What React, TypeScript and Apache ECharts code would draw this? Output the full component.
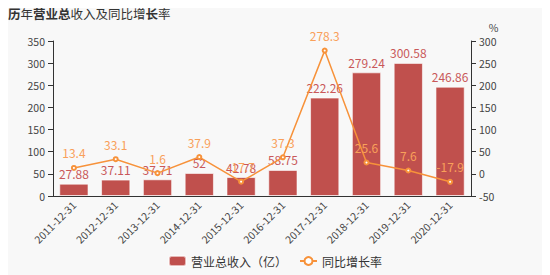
import React, { useEffect, useRef } from "react";
import * as echarts from "echarts";

const categories = [
  "2011-12-31", "2012-12-31", "2013-12-31", "2014-12-31", "2015-12-31",
  "2016-12-31", "2017-12-31", "2018-12-31", "2019-12-31", "2020-12-31",
];
const revenue = [27.88, 37.11, 37.71, 52, 42.78, 58.75, 222.26, 279.24, 300.58, 246.86];
const growth = [13.4, 33.1, 1.6, 37.9, -17.7, 37.3, 278.3, 25.6, 7.6, -17.9];

const barName = "营业总收入（亿）";
const lineName = "同比增长率";

export default function App() {
  const ref = useRef<HTMLDivElement>(null);
  useEffect(() => {
    if (!ref.current) return;
    const chart = echarts.init(ref.current, undefined, { renderer: "svg" });
    const font = "'Noto Sans CJK SC', 'Noto Sans', sans-serif";
    chart.setOption({
      animation: false,
      backgroundColor: "#f8f8f8",
      textStyle: { fontFamily: font },
      title: {
        left: 3,
        top: 2,
        text: "{b|历}{n|年}{b|营业总}{n|收入及同比增}{b|长}{n|率}",
        textStyle: {
          rich: {
            b: { fontSize: 12.5, fontWeight: "bold", color: "#333", fontFamily: font },
            n: { fontSize: 12.5, fontWeight: "normal", color: "#333", fontFamily: font },
          },
        },
      },
      legend: {
        bottom: 3,
        left: "center",
        itemWidth: 17,
        itemHeight: 10,
        itemGap: 12,
        textStyle: { fontSize: 12, color: "#333" },
        data: [
          { name: barName, icon: "roundRect" },
          { name: lineName },
        ],
      },
      grid: { left: 53, right: 79, top: 41, bottom: 79 },
      xAxis: {
        type: "category",
        data: categories,
        axisLine: { lineStyle: { color: "#333" } },
        axisTick: { lineStyle: { color: "#333" } },
        axisLabel: { rotate: 45, fontSize: 10.5, color: "#444", margin: 7 },
      },
      yAxis: [
        {
          type: "value",
          min: 0,
          max: 350,
          interval: 50,
          axisLine: { show: true, lineStyle: { color: "#333" } },
          axisTick: { show: true },
          axisLabel: { fontSize: 10.5, color: "#444" },
          splitLine: { show: false },
        },
        {
          type: "value",
          min: -50,
          max: 300,
          interval: 50,
          name: "%",
          nameGap: 8,
          nameTextStyle: { fontSize: 10.5, color: "#444", padding: [0, 0, 0, 45] },
          axisLine: { show: true, lineStyle: { color: "#333" } },
          axisTick: { show: true },
          axisLabel: { fontSize: 10.5, color: "#444" },
          splitLine: { show: false },
        },
      ],
      series: [
        {
          name: barName,
          type: "bar",
          data: revenue,
          barWidth: "70%",
          itemStyle: { color: "#c0504d", borderColor: "rgba(255,255,255,0.6)", borderWidth: 1 },
          label: { show: true, position: "top", color: "#c9585a", fontSize: 12, distance: 4 },
          z: 2,
        },
        {
          name: lineName,
          type: "line",
          yAxisIndex: 1,
          data: growth,
          symbol: "emptyCircle",
          symbolSize: 4,
          lineStyle: { color: "#f7923a", width: 1.5 },
          itemStyle: { color: "#f7923a", borderWidth: 1 },
          label: { show: true, position: "top", color: "#f9a05a", fontSize: 12, distance: 6 },
          z: 3,
        },
      ],
    });
    return () => chart.dispose();
  }, []);
  return <div ref={ref} style={{ width: 550, height: 275, marginLeft: -8, marginTop: -8 }} />;
}
